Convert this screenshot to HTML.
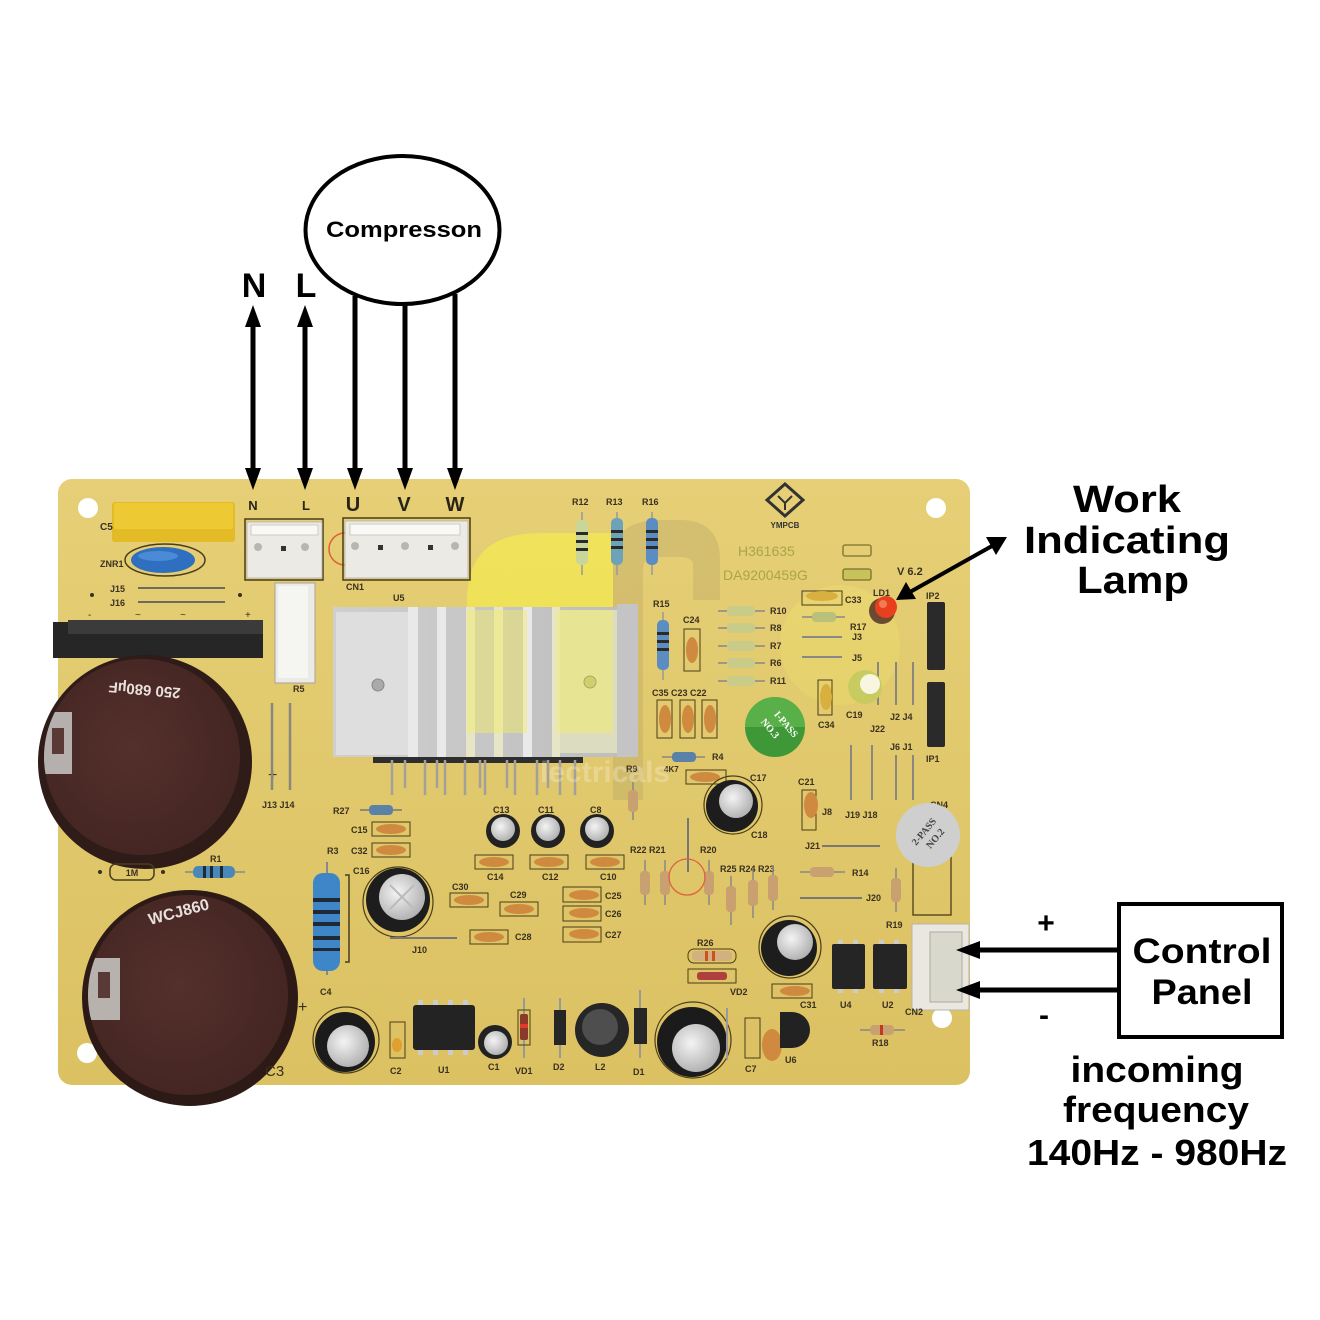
<!DOCTYPE html>
<html><head><meta charset="utf-8">
<style>html,body{margin:0;padding:0;background:#fff;}svg{display:block}</style>
</head><body>
<svg width="1320" height="1320" viewBox="0 0 1320 1320" xmlns="http://www.w3.org/2000/svg" font-family="'Liberation Sans', Arial, sans-serif">
<defs>
  <linearGradient id="brd" x1="0" y1="0" x2="0" y2="1">
    <stop offset="0" stop-color="#e6cf76"/><stop offset="1" stop-color="#dbc162"/>
  </linearGradient>
  <linearGradient id="hs" x1="0" y1="0" x2="1" y2="0">
    <stop offset="0" stop-color="#cfcfcf"/><stop offset="1" stop-color="#bdbdbd"/>
  </linearGradient>
  <radialGradient id="silver" cx="0.4" cy="0.4" r="0.7">
    <stop offset="0" stop-color="#f4f4f4"/><stop offset="1" stop-color="#a9a9a9"/>
  </radialGradient>
  <radialGradient id="brown" cx="0.45" cy="0.45" r="0.6">
    <stop offset="0" stop-color="#54302c"/><stop offset="1" stop-color="#432522"/>
  </radialGradient>
  <clipPath id="cap1"><circle cx="142" cy="757" r="98"/></clipPath>
  <clipPath id="cap2"><circle cx="188" cy="995" r="100"/></clipPath>
</defs>

<rect width="1320" height="1320" fill="#fff"/>

<!-- ================= BOARD ================= -->
<rect x="58" y="479" width="912" height="606" rx="14" fill="url(#brd)"/>
<circle cx="88" cy="508" r="10" fill="#fff"/>
<circle cx="936" cy="508" r="10" fill="#fff"/>
<circle cx="87" cy="1053" r="10" fill="#fff"/>
<circle cx="942" cy="1018" r="10" fill="#fff"/>

<!-- watermark -->
<path d="M467,733 L467,600 Q467,533 540,533 L613,533 L613,733 L557,733 L557,612 L527,612 L527,733 Z" fill="#f6f04a" opacity="0.6"/>
<path d="M613,800 L613,560 Q613,520 660,520 L680,520 Q720,520 720,560 L720,600 L693,600 L693,565 Q693,557 680,557 L655,557 Q643,557 643,570 L643,800 Z" fill="#8c8060" opacity="0.18"/>
<circle cx="840" cy="645" r="60" fill="#f6f06a" opacity="0.22"/>

<!-- top-left: C5 -->
<rect x="112" y="502" width="123" height="40" rx="3" fill="#e2bb27"/>
<rect x="114" y="503" width="119" height="26" rx="2" fill="#edc933"/>
<text x="100" y="530" font-size="10" font-weight="bold" fill="#3a3020">C5</text>
<!-- ZNR1 -->
<ellipse cx="165" cy="560" rx="40" ry="16" fill="none" stroke="#4a3d1a" stroke-width="1.5"/>
<ellipse cx="163" cy="560" rx="32" ry="13" fill="#2f6fc0"/>
<ellipse cx="158" cy="556" rx="20" ry="5" fill="#4b8ad6"/>
<text x="100" y="567" font-size="9" font-weight="bold" fill="#3a3020">ZNR1</text>
<!-- J15 J16 -->
<text x="110" y="592" font-size="9" font-weight="bold" fill="#3a3020">J15</text>
<text x="110" y="606" font-size="9" font-weight="bold" fill="#3a3020">J16</text>
<line x1="138" y1="588" x2="225" y2="588" stroke="#6e6a60" stroke-width="2"/>
<line x1="138" y1="602" x2="225" y2="602" stroke="#6e6a60" stroke-width="2"/>
<circle cx="92" cy="595" r="2" fill="#3a3020"/><circle cx="240" cy="595" r="2" fill="#3a3020"/>
<text x="88" y="618" font-size="10" fill="#3a3020">-</text>
<text x="135" y="618" font-size="10" fill="#3a3020">~</text>
<text x="180" y="618" font-size="10" fill="#3a3020">~</text>
<text x="245" y="618" font-size="10" fill="#3a3020">+</text>
<!-- bridge rectifier -->
<rect x="53" y="622" width="210" height="36" fill="#262626"/>
<rect x="68" y="620" width="195" height="14" fill="#3b3b3b"/>

<!-- big cap 1 -->
<circle cx="145" cy="762" r="107" fill="#2f1b18"/>
<circle cx="142" cy="757" r="98" fill="url(#brown)"/>
<g clip-path="url(#cap1)">
  <rect x="38" y="712" width="34" height="62" fill="#b5b0ad"/>
  <rect x="52" y="728" width="12" height="26" fill="#5a3a36"/>
</g>
<text x="145" y="685" font-size="15" font-weight="bold" fill="#e8e0dc" text-anchor="middle" transform="rotate(185 145 685)">250 680µF</text>
<text x="268" y="780" font-size="16" fill="#3a3020">+</text>
<!-- J13 J14 -->
<line x1="272" y1="703" x2="272" y2="790" stroke="#8a8780" stroke-width="2.5"/>
<line x1="290" y1="703" x2="290" y2="790" stroke="#8a8780" stroke-width="2.5"/>
<text x="262" y="808" font-size="9" font-weight="bold" fill="#3a3020">J13 J14</text>

<!-- N/L connector -->
<rect x="245" y="519" width="78" height="61" fill="none" stroke="#4a3d1a" stroke-width="1.5"/>
<rect x="247" y="522" width="75" height="56" fill="#eceae4" stroke="#bdb9b0"/>
<rect x="251" y="525" width="67" height="10" fill="#f8f8f5" stroke="#cfcbc2"/>
<circle cx="258" cy="547" r="4" fill="#b9b6ae"/><rect x="281" y="546" width="5" height="5" fill="#333"/><circle cx="305" cy="547" r="4" fill="#b9b6ae"/>
<text x="253" y="510" font-size="13" font-weight="bold" fill="#2a2418" text-anchor="middle">N</text>
<text x="306" y="510" font-size="13" font-weight="bold" fill="#2a2418" text-anchor="middle">L</text>
<!-- red stamp -->
<path d="M345,533 A14,14 0 1,0 345,565" fill="none" stroke="#e0603c" stroke-width="1.5"/>
<!-- CN1 -->
<rect x="343" y="518" width="127" height="62" fill="none" stroke="#4a3d1a" stroke-width="1.5"/>
<rect x="345" y="521" width="123" height="57" fill="#eceae4" stroke="#bdb9b0"/>
<rect x="350" y="524" width="110" height="11" fill="#f8f8f5" stroke="#cfcbc2"/>
<circle cx="355" cy="546" r="4" fill="#b9b6ae"/><rect x="378" y="545" width="5" height="5" fill="#333"/>
<circle cx="405" cy="546" r="4" fill="#b9b6ae"/><rect x="428" y="545" width="5" height="5" fill="#333"/>
<circle cx="455" cy="546" r="4" fill="#b9b6ae"/>
<text x="353" y="511" font-size="20" font-weight="bold" fill="#2a2418" text-anchor="middle">U</text>
<text x="404" y="511" font-size="20" font-weight="bold" fill="#2a2418" text-anchor="middle">V</text>
<text x="455" y="511" font-size="20" font-weight="bold" fill="#2a2418" text-anchor="middle">W</text>
<text x="346" y="590" font-size="9" font-weight="bold" fill="#3a3020">CN1</text>
<text x="393" y="601" font-size="9" font-weight="bold" fill="#3a3020">U5</text>
<!-- R5 -->
<rect x="275" y="583" width="40" height="100" fill="#ebeae5" stroke="#a8a49b"/>
<rect x="278" y="586" width="30" height="92" fill="#f5f5f2"/>
<text x="293" y="692" font-size="9" font-weight="bold" fill="#3a3020">R5</text>

<!-- heatsink -->
<rect x="373" y="755" width="210" height="8" fill="#2e2e2e"/>
<g stroke="#a3a09a" stroke-width="2.5">
  <line x1="392" y1="760" x2="392" y2="795"/><line x1="405" y1="760" x2="405" y2="788"/>
  <line x1="425" y1="760" x2="425" y2="795"/><line x1="437" y1="760" x2="437" y2="788"/>
  <line x1="445" y1="760" x2="445" y2="795"/><line x1="465" y1="760" x2="465" y2="795"/>
  <line x1="480" y1="760" x2="480" y2="788"/><line x1="485" y1="760" x2="485" y2="795"/>
  <line x1="507" y1="760" x2="507" y2="788"/><line x1="515" y1="760" x2="515" y2="795"/>
  <line x1="537" y1="760" x2="537" y2="795"/><line x1="548" y1="760" x2="548" y2="788"/>
  <line x1="560" y1="760" x2="560" y2="795"/><line x1="575" y1="760" x2="575" y2="795"/>
</g>
<rect x="333" y="607" width="305" height="150" fill="url(#hs)"/>
<rect x="336" y="612" width="72" height="143" fill="#dedede"/>
<rect x="408" y="607" width="10" height="150" fill="#e9e9e9"/>
<rect x="437" y="607" width="9" height="150" fill="#e9e9e9"/>
<rect x="466" y="607" width="9" height="150" fill="#e6e6c6"/>
<rect x="494" y="607" width="9" height="150" fill="#e6e6c6"/>
<rect x="523" y="607" width="9" height="150" fill="#e9e9e9"/>
<rect x="552" y="607" width="8" height="150" fill="#e6e6c6"/>
<rect x="560" y="610" width="57" height="143" fill="#dcdcc0"/>
<rect x="617" y="604" width="21" height="153" fill="#c4c4c4"/>
<rect x="467" y="610" width="60" height="123" fill="#f4ee60" opacity="0.45"/>
<rect x="557" y="610" width="56" height="123" fill="#f4ee60" opacity="0.45"/>
<circle cx="378" cy="685" r="6" fill="#aaa" stroke="#888"/>
<circle cx="590" cy="682" r="6" fill="#cfcf70" stroke="#aaa860"/>

<!-- R27 C15 C32 -->
<text x="333" y="814" font-size="9" font-weight="bold" fill="#3a3020">R27</text>
<line x1="360" y1="810" x2="402" y2="810" stroke="#777" stroke-width="1.5"/>
<rect x="369" y="805" width="24" height="10" rx="4" fill="#5a82a8"/>
<text x="351" y="833" font-size="9" font-weight="bold" fill="#3a3020">C15</text>
<rect x="372" y="822" width="38" height="14" fill="none" stroke="#4a3d1a"/>
<ellipse cx="391" cy="829" rx="15" ry="5" fill="#cf8a40"/>
<text x="351" y="854" font-size="9" font-weight="bold" fill="#3a3020">C32</text>
<rect x="372" y="843" width="38" height="14" fill="none" stroke="#4a3d1a"/>
<ellipse cx="391" cy="850" rx="15" ry="5" fill="#cf8a40"/>
<text x="327" y="854" font-size="9" font-weight="bold" fill="#3a3020">R3</text>
<!-- R3 big blue resistor -->
<line x1="327" y1="862" x2="327" y2="975" stroke="#888" stroke-width="2"/>
<path d="M345,875 L349,875 L349,962 L345,962" fill="none" stroke="#4a3d1a" stroke-width="1.5"/>
<rect x="313" y="873" width="27" height="98" rx="10" fill="#3f86c8"/>
<g fill="#1e2a36"><rect x="313" y="898" width="27" height="4"/><rect x="313" y="910" width="27" height="4"/><rect x="313" y="922" width="27" height="4"/><rect x="313" y="936" width="27" height="4"/><rect x="313" y="948" width="27" height="3"/></g>
<!-- C16 -->
<text x="353" y="874" font-size="9" font-weight="bold" fill="#3a3020">C16</text>
<circle cx="398" cy="902" r="35" fill="none" stroke="#4a3d1a" stroke-width="1.2"/>
<circle cx="398" cy="900" r="32" fill="#1d1d1d"/>
<circle cx="402" cy="897" r="23" fill="url(#silver)"/>
<path d="M390,885 L414,909 M414,885 L390,909" stroke="#bbb" stroke-width="2"/>
<line x1="390" y1="938" x2="457" y2="938" stroke="#777" stroke-width="2"/>
<text x="412" y="953" font-size="9" font-weight="bold" fill="#3a3020">J10</text>

<!-- big cap C3 -->
<circle cx="190" cy="998" r="108" fill="#2d1a17"/>
<circle cx="188" cy="995" r="100" fill="url(#brown)"/>
<g clip-path="url(#cap2)"><rect x="84" y="958" width="36" height="62" fill="#b7b2ae"/><rect x="98" y="972" width="12" height="26" fill="#5a3a36"/></g>
<text x="150" y="925" font-size="16" font-weight="bold" fill="#e8e0dc" transform="rotate(-15 150 925)">WCJ860</text>
<text x="298" y="1012" font-size="16" fill="#3a3020">+</text>
<text x="265" y="1076" font-size="15" fill="#3a3020">C3</text>
<!-- R1 / 1M -->
<rect x="110" y="864" width="44" height="16" rx="6" fill="none" stroke="#4a3d1a" stroke-width="1.5"/>
<text x="132" y="876" font-size="9" font-weight="bold" fill="#3a3020" text-anchor="middle">1M</text>
<circle cx="100" cy="872" r="2" fill="#3a3020"/><circle cx="163" cy="872" r="2" fill="#3a3020"/>
<text x="210" y="862" font-size="9" font-weight="bold" fill="#3a3020">R1</text>
<line x1="185" y1="872" x2="245" y2="872" stroke="#888" stroke-width="1.5"/>
<rect x="193" y="866" width="42" height="12" rx="5" fill="#4a88b8"/>
<g fill="#1e2a36"><rect x="203" y="866" width="3" height="12"/><rect x="210" y="866" width="3" height="12"/><rect x="220" y="866" width="3" height="12"/></g>

<!-- C4 -->
<text x="320" y="995" font-size="9" font-weight="bold" fill="#3a3020">C4</text>
<circle cx="346" cy="1040" r="33" fill="none" stroke="#4a3d1a" stroke-width="1.2"/>
<circle cx="345" cy="1042" r="30" fill="#1b1b1b"/>
<circle cx="348" cy="1046" r="21" fill="url(#silver)"/>
<!-- C2 -->
<rect x="390" y="1022" width="15" height="36" fill="none" stroke="#4a3d1a"/>
<ellipse cx="397" cy="1045" rx="5" ry="7" fill="#e0a030"/>
<text x="390" y="1074" font-size="9" font-weight="bold" fill="#3a3020">C2</text>
<!-- U1 -->
<g fill="#ccc"><rect x="418" y="1000" width="5" height="6"/><rect x="433" y="1000" width="5" height="6"/><rect x="448" y="1000" width="5" height="6"/><rect x="463" y="1000" width="5" height="6"/>
<rect x="418" y="1049" width="5" height="6"/><rect x="433" y="1049" width="5" height="6"/><rect x="448" y="1049" width="5" height="6"/><rect x="463" y="1049" width="5" height="6"/></g>
<rect x="413" y="1005" width="62" height="45" rx="3" fill="#232323"/>
<text x="438" y="1073" font-size="9" font-weight="bold" fill="#3a3020">U1</text>
<!-- C1 -->
<circle cx="495" cy="1042" r="17" fill="#222"/><circle cx="496" cy="1043" r="12" fill="url(#silver)"/>
<text x="488" y="1070" font-size="9" font-weight="bold" fill="#3a3020">C1</text>
<!-- VD1 D2 -->
<line x1="524" y1="998" x2="524" y2="1058" stroke="#999" stroke-width="2"/>
<rect x="518" y="1010" width="12" height="35" fill="none" stroke="#4a3d1a"/>
<rect x="520" y="1014" width="8" height="26" rx="2" fill="#8a3a2a"/><rect x="520" y="1024" width="8" height="4" fill="#e03a2a"/>
<text x="515" y="1074" font-size="9" font-weight="bold" fill="#3a3020">VD1</text>
<line x1="560" y1="998" x2="560" y2="1058" stroke="#999" stroke-width="2"/>
<rect x="554" y="1010" width="12" height="35" fill="#262626"/>
<text x="553" y="1070" font-size="9" font-weight="bold" fill="#3a3020">D2</text>
<!-- L2 -->
<circle cx="602" cy="1030" r="27" fill="#262626"/><circle cx="600" cy="1027" r="18" fill="#4e4e4e"/>
<text x="595" y="1070" font-size="9" font-weight="bold" fill="#3a3020">L2</text>
<!-- D1 -->
<line x1="640" y1="990" x2="640" y2="1058" stroke="#999" stroke-width="2"/>
<rect x="634" y="1008" width="13" height="36" fill="#262626"/>
<text x="633" y="1075" font-size="9" font-weight="bold" fill="#3a3020">D1</text>
<!-- big cap bottom -->
<circle cx="693" cy="1040" r="38" fill="none" stroke="#4a3d1a" stroke-width="1.2"/>
<circle cx="692" cy="1042" r="35" fill="#1b1b1b"/>
<circle cx="696" cy="1048" r="24" fill="url(#silver)"/>
<line x1="727" y1="1008" x2="727" y2="1060" stroke="#999" stroke-width="2"/>
<!-- C7 78L05 U6 -->
<rect x="745" y="1018" width="15" height="40" fill="none" stroke="#4a3d1a"/>
<text x="745" y="1072" font-size="9" font-weight="bold" fill="#3a3020">C7</text>
<ellipse cx="772" cy="1045" rx="10" ry="16" fill="#cf8a40"/>
<path d="M792,1012 A18,18 0 0,1 792,1048 Z" fill="#222"/>
<rect x="780" y="1012" width="12" height="36" fill="#222"/>
<text x="785" y="1063" font-size="9" font-weight="bold" fill="#3a3020">U6</text>

<!-- upper middle caps -->
<text x="493" y="813" font-size="9" font-weight="bold" fill="#3a3020">C13</text>
<text x="538" y="813" font-size="9" font-weight="bold" fill="#3a3020">C11</text>
<text x="590" y="813" font-size="9" font-weight="bold" fill="#3a3020">C8</text>
<circle cx="503" cy="831" r="17" fill="#222"/><circle cx="503" cy="829" r="12" fill="url(#silver)"/>
<circle cx="548" cy="831" r="17" fill="#222"/><circle cx="548" cy="829" r="12" fill="url(#silver)"/>
<circle cx="597" cy="831" r="17" fill="#222"/><circle cx="597" cy="829" r="12" fill="url(#silver)"/>
<g fill="none" stroke="#4a3d1a"><rect x="475" y="855" width="38" height="14"/><rect x="530" y="855" width="38" height="14"/><rect x="586" y="855" width="38" height="14"/></g>
<g fill="#cf8a40"><ellipse cx="494" cy="862" rx="15" ry="5"/><ellipse cx="549" cy="862" rx="15" ry="5"/><ellipse cx="605" cy="862" rx="15" ry="5"/></g>
<text x="487" y="880" font-size="9" font-weight="bold" fill="#3a3020">C14</text>
<text x="542" y="880" font-size="9" font-weight="bold" fill="#3a3020">C12</text>
<text x="600" y="880" font-size="9" font-weight="bold" fill="#3a3020">C10</text>
<text x="452" y="890" font-size="9" font-weight="bold" fill="#3a3020">C30</text>
<rect x="450" y="893" width="38" height="14" fill="none" stroke="#4a3d1a"/><ellipse cx="469" cy="900" rx="15" ry="5" fill="#cf8a40"/>
<text x="510" y="898" font-size="9" font-weight="bold" fill="#3a3020">C29</text>
<rect x="500" y="902" width="38" height="14" fill="none" stroke="#4a3d1a"/><ellipse cx="519" cy="909" rx="15" ry="5" fill="#cf8a40"/>
<rect x="470" y="930" width="38" height="14" fill="none" stroke="#4a3d1a"/><ellipse cx="489" cy="937" rx="15" ry="5" fill="#cf8a40"/>
<text x="515" y="940" font-size="9" font-weight="bold" fill="#3a3020">C28</text>
<g fill="none" stroke="#4a3d1a"><rect x="563" y="887" width="38" height="15"/><rect x="563" y="906" width="38" height="15"/><rect x="563" y="927" width="38" height="15"/></g>
<g fill="#cf8a40"><ellipse cx="584" cy="895" rx="15" ry="5"/><ellipse cx="584" cy="913" rx="15" ry="5"/><ellipse cx="584" cy="934" rx="15" ry="5"/></g>
<text x="605" y="899" font-size="9" font-weight="bold" fill="#3a3020">C25</text>
<text x="605" y="917" font-size="9" font-weight="bold" fill="#3a3020">C26</text>
<text x="605" y="938" font-size="9" font-weight="bold" fill="#3a3020">C27</text>

<!-- R9 etc -->
<text x="626" y="772" font-size="9" font-weight="bold" fill="#3a3020">R9</text>
<line x1="633" y1="782" x2="633" y2="820" stroke="#888" stroke-width="1.5"/>
<rect x="628" y="790" width="10" height="22" rx="4" fill="#c9a070"/>
<text x="630" y="853" font-size="9" font-weight="bold" fill="#3a3020">R22 R21</text>
<text x="700" y="853" font-size="9" font-weight="bold" fill="#3a3020">R20</text>
<text x="720" y="872" font-size="9" font-weight="bold" fill="#3a3020">R25 R24 R23</text>
<g stroke="#888" stroke-width="1.5">
<line x1="645" y1="860" x2="645" y2="905"/><line x1="665" y1="860" x2="665" y2="905"/><line x1="709" y1="860" x2="709" y2="905"/>
<line x1="731" y1="876" x2="731" y2="925"/><line x1="753" y1="870" x2="753" y2="918"/><line x1="773" y1="865" x2="773" y2="910"/>
<line x1="688" y1="818" x2="688" y2="872" stroke="#777" stroke-width="2"/>
</g>
<g fill="#c9a070"><rect x="640" y="871" width="10" height="24" rx="4"/><rect x="660" y="871" width="10" height="24" rx="4"/><rect x="704" y="871" width="10" height="24" rx="4"/>
<rect x="726" y="886" width="10" height="26" rx="4"/><rect x="748" y="880" width="10" height="26" rx="4"/><rect x="768" y="875" width="10" height="26" rx="4"/></g>
<circle cx="687" cy="877" r="18" fill="none" stroke="#e06040" stroke-width="1.3"/>
<!-- R4 C17 -->
<line x1="662" y1="757" x2="705" y2="757" stroke="#888" stroke-width="1.5"/>
<rect x="672" y="752" width="24" height="10" rx="4" fill="#5a82a8"/>
<text x="712" y="760" font-size="9" font-weight="bold" fill="#3a3020">R4</text>
<text x="664" y="772" font-size="8" font-weight="bold" fill="#3a3020">4K7</text>
<rect x="686" y="770" width="40" height="14" fill="none" stroke="#4a3d1a"/><ellipse cx="705" cy="777" rx="15" ry="5" fill="#cf8a40"/>
<text x="750" y="781" font-size="9" font-weight="bold" fill="#3a3020">C17</text>
<!-- C18 -->
<circle cx="733" cy="805" r="29" fill="none" stroke="#4a3d1a" stroke-width="1.2"/>
<circle cx="732" cy="806" r="26" fill="#1d1d1d"/><circle cx="736" cy="801" r="17" fill="url(#silver)"/>
<text x="751" y="838" font-size="9" font-weight="bold" fill="#3a3020">C18</text>
<!-- C21 J8 -->
<text x="798" y="785" font-size="9" font-weight="bold" fill="#3a3020">C21</text>
<rect x="802" y="790" width="14" height="40" fill="none" stroke="#4a3d1a"/><ellipse cx="811" cy="805" rx="7" ry="13" fill="#cf8a40"/>
<text x="822" y="815" font-size="9" font-weight="bold" fill="#3a3020">J8</text>
<!-- J19 J18 J6 J1 -->
<g stroke="#8a8780" stroke-width="2"><line x1="851" y1="745" x2="851" y2="800"/><line x1="872" y1="745" x2="872" y2="800"/><line x1="896" y1="755" x2="896" y2="800"/><line x1="913" y1="755" x2="913" y2="800"/>
<line x1="878" y1="662" x2="878" y2="705"/><line x1="896" y1="662" x2="896" y2="705"/><line x1="913" y1="662" x2="913" y2="705"/></g>
<text x="845" y="818" font-size="9" font-weight="bold" fill="#3a3020">J19 J18</text>
<text x="890" y="750" font-size="9" font-weight="bold" fill="#3a3020">J6 J1</text>
<text x="870" y="732" font-size="9" font-weight="bold" fill="#3a3020">J22</text>
<text x="890" y="720" font-size="9" font-weight="bold" fill="#3a3020">J2 J4</text>
<!-- J21 R14 J20 R19 -->
<text x="805" y="849" font-size="9" font-weight="bold" fill="#3a3020">J21</text>
<line x1="822" y1="846" x2="880" y2="846" stroke="#777" stroke-width="2"/>
<line x1="800" y1="872" x2="845" y2="872" stroke="#888" stroke-width="1.5"/>
<rect x="810" y="867" width="24" height="10" rx="4" fill="#c9a070"/>
<text x="852" y="876" font-size="9" font-weight="bold" fill="#3a3020">R14</text>
<line x1="800" y1="898" x2="862" y2="898" stroke="#777" stroke-width="2"/>
<text x="866" y="901" font-size="9" font-weight="bold" fill="#3a3020">J20</text>
<line x1="896" y1="868" x2="896" y2="912" stroke="#888" stroke-width="1.5"/>
<rect x="891" y="878" width="10" height="24" rx="4" fill="#c9a070"/>
<text x="886" y="928" font-size="9" font-weight="bold" fill="#3a3020">R19</text>
<!-- CN4 + sticker -->
<rect x="913" y="850" width="38" height="65" fill="none" stroke="#4a3d1a" stroke-width="1.3"/>
<text x="930" y="808" font-size="9" font-weight="bold" fill="#3a3020">CN4</text>
<circle cx="928" cy="835" r="32" fill="#cfcfcf"/>
<text x="928" y="833" font-size="10" font-weight="bold" fill="#444" text-anchor="middle" transform="rotate(-50 928 835)" font-family="'Liberation Serif', serif">2-PASS</text>
<text x="930" y="846" font-size="10" font-weight="bold" fill="#444" text-anchor="middle" transform="rotate(-50 928 835)" font-family="'Liberation Serif', serif">NO.2</text>
<!-- cap near U4 -->
<circle cx="790" cy="947" r="31" fill="none" stroke="#4a3d1a" stroke-width="1.2"/>
<circle cx="789" cy="948" r="28" fill="#1d1d1d"/><circle cx="795" cy="942" r="18" fill="url(#silver)"/>
<!-- R26 VD2 C31 -->
<text x="697" y="946" font-size="9" font-weight="bold" fill="#3a3020">R26</text>
<rect x="688" y="949" width="48" height="14" rx="6" fill="none" stroke="#4a3d1a"/>
<rect x="692" y="951" width="40" height="10" rx="4" fill="#d3b080"/><rect x="705" y="951" width="3" height="10" fill="#d05020"/><rect x="712" y="951" width="3" height="10" fill="#d05020"/>
<rect x="688" y="969" width="48" height="14" fill="none" stroke="#4a3d1a"/>
<rect x="697" y="972" width="30" height="8" rx="3" fill="#b04040"/>
<text x="730" y="995" font-size="9" font-weight="bold" fill="#3a3020">VD2</text>
<rect x="772" y="984" width="40" height="14" fill="none" stroke="#4a3d1a"/><ellipse cx="795" cy="991" rx="15" ry="5" fill="#cf8a40"/>
<text x="800" y="1008" font-size="9" font-weight="bold" fill="#3a3020">C31</text>
<!-- U4 U2 -->
<g fill="#ccc"><rect x="838" y="940" width="5" height="5"/><rect x="853" y="940" width="5" height="5"/><rect x="838" y="988" width="5" height="5"/><rect x="853" y="988" width="5" height="5"/>
<rect x="879" y="940" width="5" height="5"/><rect x="894" y="940" width="5" height="5"/><rect x="879" y="988" width="5" height="5"/><rect x="894" y="988" width="5" height="5"/></g>
<rect x="832" y="944" width="33" height="45" rx="2" fill="#252525"/>
<rect x="873" y="944" width="34" height="45" rx="2" fill="#252525"/>
<text x="840" y="1008" font-size="9" font-weight="bold" fill="#3a3020">U4</text>
<text x="882" y="1008" font-size="9" font-weight="bold" fill="#3a3020">U2</text>
<!-- CN2 -->
<rect x="912" y="924" width="57" height="86" fill="#e9e7e0" stroke="#b8b4aa"/>
<rect x="930" y="932" width="32" height="70" fill="#d9d8cc" stroke="#b0aca0"/>
<text x="905" y="1015" font-size="9" font-weight="bold" fill="#3a3020">CN2</text>
<!-- R18 -->
<line x1="860" y1="1030" x2="905" y2="1030" stroke="#888" stroke-width="1.5"/>
<rect x="870" y="1025" width="24" height="10" rx="4" fill="#c9a070"/><rect x="880" y="1025" width="3" height="10" fill="#c03a20"/>
<text x="872" y="1046" font-size="9" font-weight="bold" fill="#3a3020">R18</text>

<!-- top right area -->
<text x="572" y="505" font-size="9" font-weight="bold" fill="#3a3020">R12</text>
<text x="606" y="505" font-size="9" font-weight="bold" fill="#3a3020">R13</text>
<text x="642" y="505" font-size="9" font-weight="bold" fill="#3a3020">R16</text>
<g stroke="#999" stroke-width="1.5"><line x1="582" y1="512" x2="582" y2="575"/><line x1="617" y1="512" x2="617" y2="575"/><line x1="652" y1="512" x2="652" y2="575"/></g>
<rect x="576" y="520" width="12" height="45" rx="5" fill="#c8d69a"/>
<rect x="611" y="518" width="12" height="47" rx="5" fill="#6da3b8"/>
<rect x="646" y="518" width="12" height="47" rx="5" fill="#5b8dc2"/>
<g fill="#2a2a2a"><rect x="576" y="532" width="12" height="3"/><rect x="576" y="540" width="12" height="3"/><rect x="576" y="548" width="12" height="3"/>
<rect x="611" y="530" width="12" height="3"/><rect x="611" y="538" width="12" height="3"/><rect x="611" y="546" width="12" height="3"/>
<rect x="646" y="530" width="12" height="3"/><rect x="646" y="538" width="12" height="3"/><rect x="646" y="546" width="12" height="3"/></g>
<!-- logo -->
<path d="M785,484 L803,500 L785,516 L767,500 Z" fill="none" stroke="#333" stroke-width="3"/>
<path d="M778,496 L785,503 L792,496 M785,503 L785,510" fill="none" stroke="#333" stroke-width="2"/>
<text x="785" y="528" font-size="8" font-weight="bold" fill="#333" text-anchor="middle">YMPCB</text>
<text x="738" y="556" font-size="14" fill="#aaa54a">H361635</text>
<text x="723" y="580" font-size="14" fill="#aaa54a">DA9200459G</text>
<rect x="843" y="545" width="28" height="11" rx="2" fill="none" stroke="#7a7030" stroke-width="1.3"/>
<rect x="843" y="569" width="28" height="11" rx="2" fill="#c8c25a" stroke="#7a7030" stroke-width="1.3"/>
<text x="897" y="575" font-size="11" font-weight="bold" fill="#3a3020">V 6.2</text>
<!-- C33 R17 J3 J5 -->
<rect x="802" y="591" width="40" height="14" fill="none" stroke="#4a3d1a"/><ellipse cx="822" cy="596" rx="16" ry="5" fill="#d8b040"/>
<text x="845" y="603" font-size="9" font-weight="bold" fill="#3a3020">C33</text>
<line x1="802" y1="617" x2="845" y2="617" stroke="#888" stroke-width="1.5"/>
<rect x="812" y="612" width="24" height="10" rx="4" fill="#b8c07a"/>
<text x="850" y="630" font-size="9" font-weight="bold" fill="#3a3020">R17</text>
<line x1="802" y1="637" x2="842" y2="637" stroke="#888" stroke-width="2"/>
<text x="852" y="640" font-size="9" font-weight="bold" fill="#3a3020">J3</text>
<line x1="802" y1="657" x2="842" y2="657" stroke="#888" stroke-width="2"/>
<text x="852" y="661" font-size="9" font-weight="bold" fill="#3a3020">J5</text>
<!-- LED -->
<text x="873" y="596" font-size="9" font-weight="bold" fill="#3a3020">LD1</text>
<circle cx="882" cy="611" r="13" fill="#6a4a30"/>
<circle cx="886" cy="607" r="11" fill="#e8401f"/>
<circle cx="883" cy="604" r="4" fill="#f47a55"/>
<!-- IP2 IP1 -->
<text x="926" y="599" font-size="9" font-weight="bold" fill="#3a3020">IP2</text>
<rect x="927" y="602" width="18" height="68" rx="2" fill="#2a2a2a"/>
<rect x="927" y="682" width="18" height="65" rx="2" fill="#2a2a2a"/>
<text x="926" y="762" font-size="9" font-weight="bold" fill="#3a3020">IP1</text>
<!-- C34 C19 -->
<rect x="818" y="680" width="14" height="35" fill="none" stroke="#4a3d1a"/><ellipse cx="826" cy="697" rx="6" ry="13" fill="#d8b040"/>
<text x="818" y="728" font-size="9" font-weight="bold" fill="#3a3020">C34</text>
<circle cx="865" cy="687" r="17" fill="#c8cc60"/><circle cx="870" cy="684" r="10" fill="#f8f6e0"/>
<text x="846" y="718" font-size="9" font-weight="bold" fill="#3a3020">C19</text>
<!-- I-PASS -->
<circle cx="775" cy="727" r="30" fill="#3f9838"/>
<path d="M745,727 A30,30 0 0,1 805,727 Z" fill="#5ab048"/>
<text x="780" y="720" font-size="10" font-weight="bold" fill="#fff" text-anchor="middle" transform="rotate(50 775 727)" font-family="'Liberation Serif', serif">I-PASS</text>
<text x="773" y="735" font-size="10" font-weight="bold" fill="#fff" text-anchor="middle" transform="rotate(50 775 727)" font-family="'Liberation Serif', serif">NO.3</text>
<!-- R15 C24 -->
<text x="653" y="607" font-size="9" font-weight="bold" fill="#3a3020">R15</text>
<line x1="663" y1="612" x2="663" y2="680" stroke="#999" stroke-width="1.5"/>
<rect x="657" y="620" width="12" height="50" rx="5" fill="#5b8dc2"/>
<g fill="#2a2a2a"><rect x="657" y="632" width="12" height="3"/><rect x="657" y="640" width="12" height="3"/><rect x="657" y="648" width="12" height="3"/></g>
<text x="683" y="623" font-size="9" font-weight="bold" fill="#3a3020">C24</text>
<rect x="684" y="629" width="16" height="42" fill="none" stroke="#4a3d1a"/><ellipse cx="692" cy="650" rx="6" ry="13" fill="#cf8a40"/>
<!-- R10..R11 -->
<g stroke="#888" stroke-width="1.5"><line x1="718" y1="611" x2="765" y2="611"/><line x1="718" y1="628" x2="765" y2="628"/><line x1="718" y1="646" x2="765" y2="646"/><line x1="718" y1="663" x2="765" y2="663"/><line x1="718" y1="681" x2="765" y2="681"/></g>
<g fill="#c8cc88"><rect x="727" y="606" width="28" height="10" rx="4"/><rect x="727" y="623" width="28" height="10" rx="4"/><rect x="727" y="641" width="28" height="10" rx="4"/><rect x="727" y="658" width="28" height="10" rx="4"/><rect x="727" y="676" width="28" height="10" rx="4"/></g>
<text x="770" y="614" font-size="9" font-weight="bold" fill="#3a3020">R10</text>
<text x="770" y="631" font-size="9" font-weight="bold" fill="#3a3020">R8</text>
<text x="770" y="649" font-size="9" font-weight="bold" fill="#3a3020">R7</text>
<text x="770" y="666" font-size="9" font-weight="bold" fill="#3a3020">R6</text>
<text x="770" y="684" font-size="9" font-weight="bold" fill="#3a3020">R11</text>
<!-- C35 C23 C22 -->
<text x="652" y="696" font-size="9" font-weight="bold" fill="#3a3020">C35 C23 C22</text>
<g fill="none" stroke="#4a3d1a"><rect x="657" y="700" width="15" height="38"/><rect x="680" y="700" width="15" height="38"/><rect x="702" y="700" width="15" height="38"/></g>
<g fill="#cf8a40"><ellipse cx="665" cy="719" rx="6" ry="14"/><ellipse cx="688" cy="719" rx="6" ry="14"/><ellipse cx="710" cy="719" rx="6" ry="14"/></g>
<!-- faint watermark text -->
<text x="540" y="782" font-size="30" font-weight="bold" fill="#ffffff" opacity="0.25">lectricals</text>

<!-- ================= ANNOTATIONS ================= -->
<ellipse cx="402.5" cy="230" rx="97" ry="74" fill="#fff" stroke="#000" stroke-width="4"/>
<text x="404" y="237" font-size="22" font-weight="bold" fill="#000" text-anchor="middle" textLength="156" lengthAdjust="spacingAndGlyphs">Compresson</text>
<text x="254" y="297" font-size="34" font-weight="bold" fill="#000" text-anchor="middle">N</text>
<text x="306" y="297" font-size="34" font-weight="bold" fill="#000" text-anchor="middle">L</text>
<g stroke="#000" stroke-width="5">
  <line x1="253" y1="322" x2="253" y2="472"/>
  <line x1="305" y1="322" x2="305" y2="472"/>
  <line x1="355" y1="296" x2="355" y2="472"/>
  <line x1="405" y1="303" x2="405" y2="472"/>
  <line x1="455" y1="294" x2="455" y2="472"/>
</g>
<g fill="#000">
  <polygon points="253,305 245,327 261,327"/>
  <polygon points="305,305 297,327 313,327"/>
  <polygon points="253,490 245,468 261,468"/>
  <polygon points="305,490 297,468 313,468"/>
  <polygon points="355,490 347,468 363,468"/>
  <polygon points="405,490 397,468 413,468"/>
  <polygon points="455,490 447,468 463,468"/>
</g>

<text x="1127" y="512" font-size="38" font-weight="bold" fill="#000" text-anchor="middle" textLength="108" lengthAdjust="spacingAndGlyphs">Work</text>
<text x="1127" y="553" font-size="38" font-weight="bold" fill="#000" text-anchor="middle" textLength="206" lengthAdjust="spacingAndGlyphs">Indicating</text>
<text x="1133" y="593" font-size="38" font-weight="bold" fill="#000" text-anchor="middle" textLength="112" lengthAdjust="spacingAndGlyphs">Lamp</text>
<line x1="910" y1="592" x2="992" y2="546" stroke="#000" stroke-width="4"/>
<polygon points="896,600 906,582 916,599" fill="#000"/>
<polygon points="1007,537 986,537 996,555" fill="#000"/>

<rect x="1119" y="904" width="163" height="133" fill="#fff" stroke="#000" stroke-width="4"/>
<text x="1202" y="963" font-size="35" font-weight="bold" fill="#000" text-anchor="middle" textLength="139" lengthAdjust="spacingAndGlyphs">Control</text>
<text x="1202" y="1004" font-size="35" font-weight="bold" fill="#000" text-anchor="middle" textLength="101" lengthAdjust="spacingAndGlyphs">Panel</text>
<g stroke="#000" stroke-width="5">
  <line x1="976" y1="950" x2="1119" y2="950"/>
  <line x1="976" y1="990" x2="1119" y2="990"/>
</g>
<polygon points="956,950 980,941 980,959" fill="#000"/>
<polygon points="956,990 980,981 980,999" fill="#000"/>
<text x="1046" y="933" font-size="30" font-weight="bold" fill="#000" text-anchor="middle">+</text>
<text x="1044" y="1025" font-size="30" font-weight="bold" fill="#000" text-anchor="middle">-</text>

<text x="1157" y="1082" font-size="36" font-weight="bold" fill="#000" text-anchor="middle" textLength="173" lengthAdjust="spacingAndGlyphs">incoming</text>
<text x="1156" y="1122" font-size="36" font-weight="bold" fill="#000" text-anchor="middle" textLength="186" lengthAdjust="spacingAndGlyphs">frequency</text>
<text x="1157" y="1165" font-size="36" font-weight="bold" fill="#000" text-anchor="middle" textLength="260" lengthAdjust="spacingAndGlyphs">140Hz - 980Hz</text>
</svg>
</body></html>
